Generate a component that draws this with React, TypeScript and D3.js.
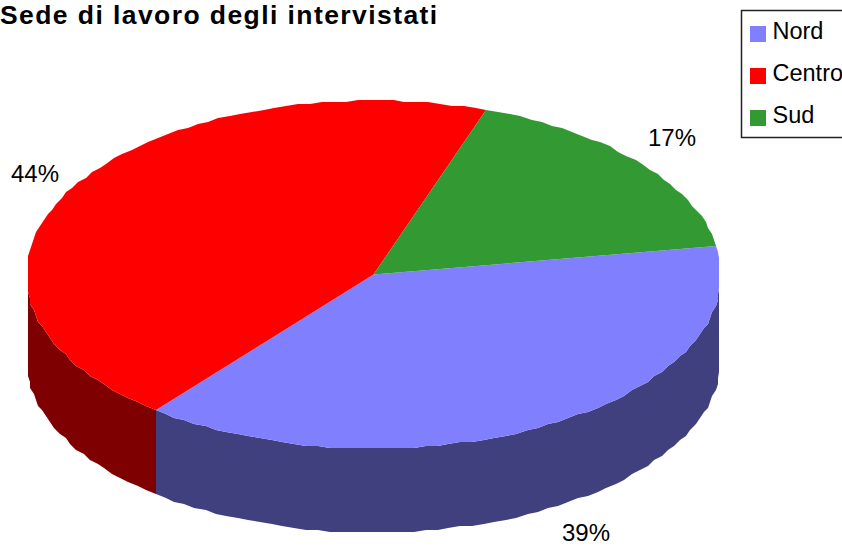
import React from "react";
import * as d3 from "d3";

const categories = ["Nord", "Centro", "Sud"];
const seriesValues = [38.4, 44.5, 17.1];
const percentLabels = ["39%", "44%", "17%"];
const topColors = ["#8080ff", "#ff0000", "#339933"];
const sideColors = ["#40407f", "#7f0000", "#1a4c1a"];
const labelPositions: [number, number][] = [[586, 541], [35, 182], [672, 146]];
const titleText = "Sede di lavoro degli intervistati";

const W = 842, H = 546;
const cx = 373.5, cy = 274.5, rx = 347.5, ry = 174, depth = 84;
const xMin = 28, xMax = 719;
const grid = 2;
const startDeg = 80.6;

const rad = (d: number) => (d * Math.PI) / 180;
const sx = d3.scaleLinear().domain([-1, 1]).range([cx - rx, cx + rx]);
const sy = d3.scaleLinear().domain([-1, 1]).range([cy - ry, cy + ry]);
const snap = (v: number) => Math.round(v / grid) * grid;

const pieGen = d3.pie<number>().sort(null)
  .startAngle(rad(startDeg)).endAngle(rad(startDeg + 360));
const arcs = pieGen(seriesValues);

function rim(a0: number, a1: number): { a: number; x: number; y: number }[] {
  const n = Math.max(2, Math.ceil(Math.abs(a1 - a0) / rad(2)));
  return d3.range(n + 1).map(i => {
    const a = a0 + ((a1 - a0) * i) / n;
    const x = Math.min(xMax, Math.max(xMin, snap(sx(Math.sin(a)))));
    const y = snap(sy(-Math.cos(a)));
    return { a, x, y };
  });
}
const line = d3.line<[number, number]>();

function topPath(a0: number, a1: number) {
  return line([[cx, cy], ...rim(a0, a1).map(p => [p.x, p.y] as [number, number])])! + "Z";
}
function sidePath(a0: number, a1: number) {
  const front = rim(a0, a1).filter(p => p.a >= rad(90) && p.a <= rad(270));
  if (front.length < 2) return null;
  const top = front.map(p => [p.x, p.y] as [number, number]);
  const bottom = front.map(p => [p.x, p.y + depth] as [number, number]).reverse();
  return line([...top, ...bottom])! + "Z";
}

export default function App() {
  return (
    <svg width={W} height={H} viewBox={`0 0 ${W} ${H}`}
      style={{ position: "fixed", left: 0, top: 0, display: "block", background: "#fff" }}
      fontFamily="'Liberation Sans', Arial, sans-serif">
      <text x={0} y={23.5} fontSize={26.5} fontWeight="bold" letterSpacing={1.42} fill="#000">{titleText}</text>
      {arcs.map((a, i) => {
        const d = sidePath(a.startAngle, a.endAngle);
        return d ? <path key={i} d={d} fill={sideColors[i]} /> : null;
      })}
      {arcs.map((a, i) => (
        <path key={i} d={topPath(a.startAngle, a.endAngle)} fill={topColors[i]} />
      ))}
      {arcs.map((a, i) => (
        <text key={i} x={labelPositions[i][0]} y={labelPositions[i][1]} fontSize={24} textAnchor="middle" fill="#000">
          {percentLabels[i]}
        </text>
      ))}
      <rect x={741.5} y={10.5} width={120} height={127} fill="#fff" stroke="#222" strokeWidth={1.5} />
      {categories.map((c, i) => (
        <g key={c}>
          <rect x={750} y={26 + i * 42} width={16} height={16} fill={topColors[i]} />
          <text x={772.5} y={39 + i * 42} fontSize={23.5} fill="#000">{c}</text>
        </g>
      ))}
    </svg>
  );
}
